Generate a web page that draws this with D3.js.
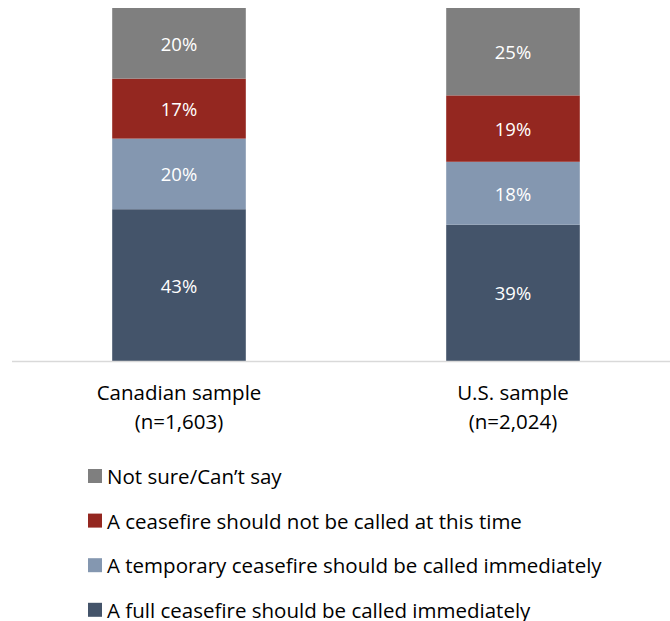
<!DOCTYPE html>
<html>
<head>
<meta charset="utf-8">
<script src="https://cdn.jsdelivr.net/npm/d3@7"></script>
<style>
    body { margin: 0; background: #fff; }
    svg text { font-family: "Open Sans", Lato, sans-serif; }
</style>
</head>
<body>
<script>
    // data, bottom segment first
    const samples = ['Canadian sample', 'U.S. sample'];
    const sampleSizes = ['(n=1,603)', '(n=2,024)'];
    const seriesNames = [
        'A full ceasefire should be called immediately',
        'A temporary ceasefire should be called immediately',
        'A ceasefire should not be called at this time',
        'Not sure/Can\u2019t say'
    ];
    const fullCeasefire = [43, 39];
    const temporaryCeasefire = [20, 18];
    const notCalled = [17, 19];
    const notSure = [20, 25];
    const colors = ['#44546a', '#8497b0', '#942720', '#7f7f7f'];

    const width = 670, height = 621;
    const rows = samples.map((s, i) => ({
        sample: s,
        s0: fullCeasefire[i], s1: temporaryCeasefire[i], s2: notCalled[i], s3: notSure[i]
    }));
    const keys = ['s0', 's1', 's2', 's3'];

    const stack = d3.stack().keys(keys).offset(d3.stackOffsetExpand);
    const layers = stack(rows);

    const x = d3.scaleBand().domain(samples).range([12, 680])
        .paddingInner(0.6).paddingOuter(0.3);
    const y = d3.scaleLinear().domain([0, 1]).range([361, 8]);

    const svg = d3.select('body').append('svg')
        .attr('width', width).attr('height', height);

    const layer = svg.selectAll('g.layer').data(layers).enter()
        .append('g').attr('class', 'layer')
        .attr('fill', (d, i) => colors[i]);

    layer.selectAll('rect').data(d => d).enter().append('rect')
        .attr('x', d => x(d.data.sample))
        .attr('width', x.bandwidth())
        .attr('y', d => y(d[1]))
        .attr('height', d => y(d[0]) - y(d[1]));

    layer.each(function (L, li) {
        d3.select(this).selectAll('text').data(L).enter().append('text')
            .attr('x', d => x(d.data.sample) + x.bandwidth() / 2)
            .attr('y', d => (y(d[0]) + y(d[1])) / 2)
            .attr('text-anchor', 'middle')
            .attr('dominant-baseline', 'central')
            .attr('fill', '#fff')
            .style('font-size', '18.5px')
            .text(d => d.data[keys[li]] + '%');
    });

    // baseline
    svg.append('line')
        .attr('x1', 12).attr('x2', 670)
        .attr('y1', y(0) + 0.5).attr('y2', y(0) + 0.5)
        .attr('stroke', '#d9d9d9').attr('stroke-width', 1.5);

    // category labels
    const cat = svg.selectAll('text.cat').data(samples).enter()
        .append('text').attr('class', 'cat')
        .attr('text-anchor', 'middle')
        .attr('fill', '#000')
        .style('font-size', '20.5px');
    cat.append('tspan')
        .attr('x', d => x(d) + x.bandwidth() / 2)
        .attr('y', 400)
        .text(d => d);
    cat.append('tspan')
        .attr('x', d => x(d) + x.bandwidth() / 2)
        .attr('y', 429)
        .text((d, i) => sampleSizes[i]);

    // legend, top item is last series
    const legendOrder = [3, 2, 1, 0];
    const legend = svg.selectAll('g.legend').data(legendOrder).enter()
        .append('g').attr('class', 'legend')
        .attr('transform', (d, i) => `translate(88, ${476 + i * 44.6})`);
    legend.append('rect')
        .attr('x', 0).attr('y', -7)
        .attr('width', 14).attr('height', 14)
        .attr('fill', d => colors[d]);
    legend.append('text')
        .attr('x', 19).attr('y', 0)
        .attr('dominant-baseline', 'central')
        .style('font-size', '20.5px')
        .attr('fill', '#000')
        .text(d => seriesNames[d]);
</script>
</body>
</html>
